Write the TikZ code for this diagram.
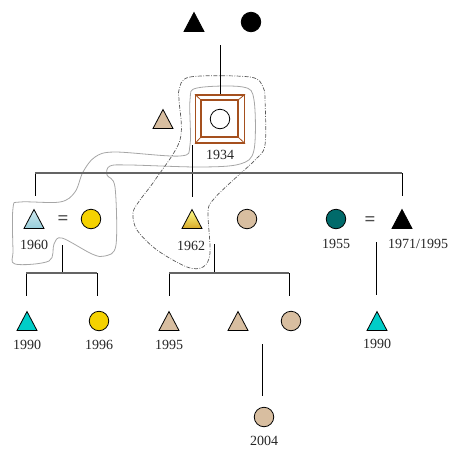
\documentclass[tikz,border=0pt]{standalone}
\usepackage{fontspec}
\setmainfont{Liberation Serif}
\usetikzlibrary{calc}
\definecolor{tanc}{RGB}{216,190,160}
\definecolor{lblue}{RGB}{150,205,218}
\definecolor{yel}{RGB}{245,210,0}
\definecolor{goldc}{RGB}{214,168,40}
\definecolor{teal}{RGB}{0,106,106}
\definecolor{cyanc}{RGB}{0,205,200}
\definecolor{brownc}{RGB}{165,80,30}
\definecolor{barc}{RGB}{100,100,100}
\newcommand{\ptri}[3]{%
  \coordinate (#1) at #2;
  \draw[sym,#3] ($(#1)+(-10,9.5)$) -- ($(#1)+(0,-9.5)$) -- ($(#1)+(10,9.5)$) -- cycle;}
\begin{document}
\begin{tikzpicture}[x=1pt,y=-1pt,
  sym/.style={draw=black, line width=0.8pt, line join=miter},
  circ/.style={circle, minimum size=19.5pt, inner sep=0pt, draw=black, line width=0.8pt},
  yr/.style={font=\fontsize{14}{16}\selectfont, inner sep=0pt, text=black!85},
  eq/.style={font=\fontsize{19}{20}\selectfont\bfseries, inner sep=0pt, text=black!70},
  bar/.style={draw=barc, line width=1.5pt},
  vline/.style={draw=black, line width=0.9pt},
  outline/.style={draw=black!35, line width=0.8pt},
  dashdot/.style={draw=black!65, line width=0.7pt, dash pattern=on 4pt off 1.5pt on 0.8pt off 1.5pt}
]
\useasboundingbox (0,0) rectangle (450,448);

% outlines
\draw[outline] plot[smooth cycle, tension=0.55] coordinates {
 (190,100) (197,88) (243,87) (254,100) (254,150) (240,164) (200,167)
 (130,165) (110,166) (107,175) (115,187) (116,245) (105,256) (92,254)
 (62,238) (54,244) (49,261) (15,264) (13,250) (13,208) (20,202) (60,202)
 (75,192) (83,172) (95,157) (115,152) (180,156) (190,145)};
\draw[dashdot] plot[smooth cycle, tension=0.55] coordinates {
 (179,90) (190,77) (250,77) (263,87) (265,100) (265,145) (255,160)
 (230,183) (213,200) (208,212) (210,253) (203,267) (187,267) (157,250)
 (137,230) (133,213) (140,200) (155,180) (180,140) (179,100)};

% generation 1
\ptri{gf}{(194,22)}{fill=black}
\node[circ, fill=black] (gm) at (251,22) {};
% 1934 ego box
\node[draw=brownc, line width=1.1pt, minimum width=49pt, minimum height=48pt, inner sep=0pt] (box) at (220,119) {};
\coordinate (bi1) at (201,100); \coordinate (bi2) at (238,100);
\coordinate (bi3) at (238,137); \coordinate (bi4) at (201,137);
\draw[draw=brownc, line width=1.1pt] (bi1) rectangle (bi3);
\draw[draw=brownc, line width=0.8pt] (box.north west) -- (bi1) (box.north east) -- (bi2)
  (box.south east) -- (bi3) (box.south west) -- (bi4);
\node[circ, fill=white] (ego) at (220,119) {};
\node[yr] (y1934) at (220,155) {1934};
\ptri{hus}{(163,119)}{fill=tanc}

% generation 2
\ptri{s1960}{(34,219)}{top color=lblue!45!white, bottom color=lblue}
\node[eq] (eq1) at (63,220) {=};
\node[circ, fill=yel] (w1960) at (91,219) {};
\node[yr] (y1960) at (34,245) {1960};
\ptri{s1962}{(192,219)}{top color=yellow!45!white, bottom color=goldc}
\node[yr] (y1962) at (191,246) {1962};
\node[circ, fill=tanc] (w1962) at (247,219) {};
\node[circ, fill=teal] (d1955) at (336,219) {};
\node[yr] (y1955) at (336,244) {1955};
\node[eq] (eq2) at (370,221) {=};
\ptri{h1971}{(402,219)}{fill=black}
\node[yr, anchor=west] (y1971) at (388,244) {1971/1995};

% generation 3
\ptri{c1990a}{(27,321)}{fill=cyanc}
\node[yr] (y1990a) at (27,345) {1990};
\node[circ, fill=yel] (c1996) at (99,321) {};
\node[yr] (y1996) at (99,345) {1996};
\ptri{c1995}{(169,321)}{fill=tanc}
\node[yr] (y1995) at (169,345) {1995};
\ptri{c2a}{(238,321)}{fill=tanc}
\node[circ, fill=tanc] (c2b) at (291,321) {};
\ptri{c1990b}{(377,321)}{fill=cyanc}
\node[yr] (y1990b) at (377,344) {1990};
\node[circ, fill=tanc] (c2004) at (264,417) {};
\node[yr] (y2004) at (264,441) {2004};

% connector points
\coordinate (t0) at (220,45);
\coordinate (bL) at (35,173); \coordinate (bR) at (402,173);
\coordinate (dL) at (35,196); \coordinate (dM0) at (192,145); \coordinate (dM) at (192,197);
\coordinate (dR) at (402,196);
\coordinate (a0) at (62,245); \coordinate (a1) at (62,273);
\coordinate (aL) at (26,273); \coordinate (aR) at (97,273);
\coordinate (aL1) at (26,296); \coordinate (aR1) at (97,296);
\coordinate (m0) at (214,244); \coordinate (m1) at (214,273);
\coordinate (mL) at (169,273); \coordinate (mR) at (289,273);
\coordinate (mL1) at (169,296); \coordinate (mR1) at (289,296);
\coordinate (r0) at (376,242); \coordinate (r1) at (376,295);
\coordinate (g0) at (262,344); \coordinate (g1) at (262,396);

\draw[vline] (t0) -- (box.north);
\draw[vline] (bL) -- (dL);
\draw[vline] (dM0) -- (dM);
\draw[vline] (bR) -- (dR);
\draw[bar] (bL) -- (bR);
\draw[vline] (a0) -- (a1);
\draw[vline] (aL) -- (aL1);
\draw[vline] (aR) -- (aR1);
\draw[bar] (aL) -- (aR);
\draw[vline] (m0) -- (m1);
\draw[vline] (mL) -- (mL1);
\draw[vline] (mR) -- (mR1);
\draw[bar] (mL) -- (mR);
\draw[vline] (r0) -- (r1);
\draw[vline] (g0) -- (g1);
\end{tikzpicture}
\end{document}
